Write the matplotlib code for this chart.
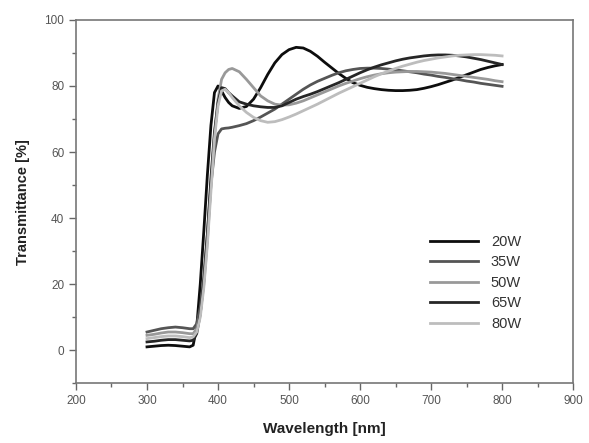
import numpy as np
import matplotlib
matplotlib.use("Agg")
import matplotlib.pyplot as plt
from matplotlib.ticker import MultipleLocator

plt.rcParams['font.family'] = ['Liberation Sans', 'DejaVu Sans']

# wavelength grid (nm)
wl = [300, 310, 320, 330, 340, 350, 360,
      365, 370, 375, 380, 385, 390, 395, 400, 405, 410, 415, 420,
      430, 440, 450, 460, 470, 480, 490, 500, 510, 520, 530, 540, 550, 560,
      570, 580, 590, 600, 610, 620, 630, 640, 650, 660, 670, 680, 690, 700,
      710, 720, 730, 740, 750, 760, 770, 780, 790, 800]

t20 = [1.0, 1.2, 1.4, 1.5, 1.4, 1.2, 1.0,
       1.5, 7, 20, 36, 53, 68, 78, 80, 78.5, 76.5, 75, 74,
       73.2, 73.8, 76, 79.5, 83.5, 87, 89.5, 91, 91.7, 91.5, 90.5, 89, 87.2, 85.5,
       83.8, 82.3, 81, 80.2, 79.6, 79.2, 78.9, 78.7, 78.6, 78.6, 78.7, 78.9, 79.3, 79.8,
       80.4, 81.1, 81.8, 82.6, 83.4, 84.2, 85, 85.6, 86.1, 86.5]

t35 = [5.5, 6.0, 6.5, 6.8, 7.0, 6.8, 6.5,
       6.5, 8, 13, 22, 35, 50, 60, 65.5, 67, 67.2, 67.3, 67.5,
       68, 68.6, 69.5, 70.6, 71.8, 73, 74.5, 76, 77.5, 79, 80.3, 81.4, 82.3, 83.2,
       84, 84.6, 85, 85.3, 85.4, 85.4, 85.3, 85.1, 84.9, 84.6, 84.3, 84, 83.6, 83.3,
       82.9, 82.6, 82.2, 81.9, 81.5, 81.2, 80.8, 80.5, 80.2, 79.9]

t50 = [4.5, 4.8, 5.2, 5.5, 5.5, 5.3, 5.0,
       5, 6.5, 11, 20, 33, 50, 65, 76, 82, 84, 85, 85.3,
       84.3, 82, 79.5, 77, 75.5, 74.5, 74.2, 74.3, 74.8, 75.5, 76.4, 77.3, 78.2, 79.1,
       80, 80.8, 81.5, 82.2, 82.8, 83.3, 83.7, 84, 84.2, 84.3, 84.4, 84.4, 84.3, 84.2,
       84, 83.8, 83.5, 83.2, 82.9, 82.6, 82.3, 82, 81.6, 81.3]

t65 = [2.5, 2.7, 3.0, 3.2, 3.2, 3.0, 2.8,
       3, 5, 11, 21, 35, 52, 66, 75, 79.5, 79.2, 78, 77,
       75.2, 74.5, 74, 73.7, 73.5, 73.5, 74, 75, 76, 76.8, 77.5, 78.3, 79.2, 80.1,
       81, 82, 83, 84, 84.9, 85.7, 86.4, 87, 87.6, 88.1, 88.5, 88.8, 89.1, 89.3,
       89.4, 89.4, 89.3, 89.1, 88.8, 88.4, 88, 87.5, 87, 86.5]

t80 = [3.5, 3.8, 4.1, 4.3, 4.3, 4.1, 3.8,
       4, 5.5, 10, 19, 32, 48, 64, 74, 78.5, 79, 78, 76.5,
       74, 72, 70.5, 69.5, 69, 69.2, 69.8, 70.6, 71.5, 72.5, 73.5, 74.5, 75.6, 76.7,
       77.8, 78.8, 79.8, 80.8, 81.8, 82.8, 83.7, 84.5, 85.3, 86, 86.6, 87.2, 87.7, 88.1,
       88.5, 88.8, 89.1, 89.3, 89.4, 89.5, 89.5, 89.4, 89.3, 89.1]

labels = ['20W', '35W', '50W', '65W', '80W']
colors = ['#0d0d0d', '#555555', '#999999', '#262626', '#bdbdbd']
series = [t20, t35, t50, t65, t80]

fig = plt.figure(figsize=(5.89, 4.43), dpi=100)
ax = fig.add_axes([0.129, 0.135, 0.844, 0.82])

for y, c, lab in zip(series, colors, labels):
    ax.plot(wl, y, color=c, lw=2.0, label=lab, solid_joinstyle='round')

ax.set_xlim(200, 900)
ax.set_ylim(-10, 100)
ax.xaxis.set_major_locator(MultipleLocator(100))
ax.xaxis.set_minor_locator(MultipleLocator(50))
ax.yaxis.set_major_locator(MultipleLocator(20))
ax.yaxis.set_minor_locator(MultipleLocator(10))
ax.tick_params(which='both', direction='out', color='#666666', labelcolor='#555555',
               labelsize=8.5, top=False, right=False)
ax.tick_params(which='major', length=5, width=1)
ax.tick_params(which='minor', length=3, width=1)
for s in ax.spines.values():
    s.set_color('#777777')
    s.set_linewidth(1.2)

ax.set_xlabel('Wavelength [nm]', fontsize=11, fontweight='bold', color='#222222', labelpad=11)
ax.set_ylabel('Transmittance [%]', fontsize=10.5, fontweight='bold', color='#222222', labelpad=10)

leg = ax.legend(loc='upper left', bbox_to_anchor=(0.685, 0.445), frameon=False,
                handlelength=3.3, fontsize=10.5, labelspacing=0.45, handletextpad=0.9)
for t in leg.get_texts():
    t.set_color('#333333')

fig.savefig('out.png', dpi=100)
